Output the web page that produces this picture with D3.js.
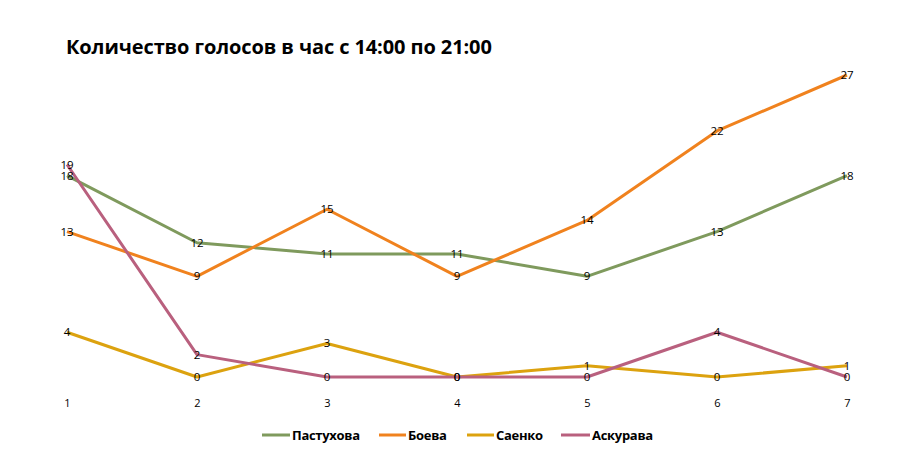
<!DOCTYPE html>
<html>
<head>
<meta charset="utf-8">
<script src="https://cdn.jsdelivr.net/npm/d3@7"></script>
<style>
  body { margin: 0; background: #fff; }
  svg { font-family: 'Open Sans', 'DejaVu Sans', sans-serif; }
</style>
</head>
<body>
<svg id="chart"></svg>
<script>
const hours = [1, 2, 3, 4, 5, 6, 7];
const names = ['Пастухова', 'Боева', 'Саенко', 'Аскурава'];
const pastukhova = [18, 12, 11, 11, 9, 13, 18];
const boeva = [13, 9, 15, 9, 14, 22, 27];
const saenko = [4, 0, 3, 0, 1, 0, 1];
const askurava = [19, 2, 0, 0, 0, 4, 0];
const colors = ['#7f9a5d', '#f0821e', '#dca20f', '#b9607e'];

const width = 916;
const height = 454;
const margin = { top: 75, right: 69, bottom: 77, left: 67 };
const graphW = width - margin.left - margin.right;
const graphH = height - margin.top - margin.bottom;

const svg = d3.select('#chart').attr('width', width).attr('height', height);

const series = [pastukhova, boeva, saenko, askurava].map((v, i) => ({
  name: names[i],
  color: colors[i],
  values: v,
}));

const xScale = d3.scalePoint().domain(hours).range([0, graphW]);
const yScale = d3.scaleLinear().domain([0, 27]).range([graphH, 0]);

// title
svg.append('text')
  .attr('x', 66)
  .attr('y', 54)
  .attr('font-size', 20)
  .attr('font-weight', 'bold')
  .attr('letter-spacing', '-0.1')
  .text('Количество голосов в час с 14:00 по 21:00');

const g = svg.append('g')
  .attr('transform', `translate(${margin.left},${margin.top})`);

// x axis labels, no line
g.append('g')
  .attr('class', 'x-axis')
  .attr('transform', `translate(0,${graphH + 22})`)
  .call(d3.axisBottom(xScale).tickSize(0).tickPadding(0))
  .call(a => a.select('.domain').remove())
  .selectAll('text')
  .attr('font-size', 11)
  .attr('font-family', "'Open Sans', sans-serif")
  .attr('fill', '#000');

const line = d3.line()
  .x((d, i) => xScale(hours[i]))
  .y(d => yScale(d));

// lines
g.selectAll('.series')
  .data(series)
  .enter()
  .append('path')
  .attr('class', 'series')
  .attr('fill', 'none')
  .attr('stroke', d => d.color)
  .attr('stroke-width', 3)
  .attr('stroke-linejoin', 'round')
  .attr('d', d => line(d.values));

// value labels
series.forEach(s => {
  g.append('g')
    .selectAll('text')
    .data(s.values)
    .enter()
    .append('text')
    .attr('x', (d, i) => xScale(hours[i]))
    .attr('y', d => yScale(d))
    .attr('dy', '0.35em')
    .attr('text-anchor', 'middle')
    .attr('font-size', 11.5)
    .attr('fill', '#000')
    .text(d => d);
});

// legend
const legendItems = [
  { x: 262, w: 28 },
  { x: 379, w: 27 },
  { x: 467, w: 27 },
  { x: 561, w: 29 },
];
const legend = svg.append('g').attr('class', 'legend');
series.forEach((s, i) => {
  const it = legendItems[i];
  legend.append('line')
    .attr('x1', it.x).attr('x2', it.x + it.w)
    .attr('y1', 435).attr('y2', 435)
    .attr('stroke', s.color)
    .attr('stroke-width', 3);
  legend.append('text')
    .attr('x', it.x + it.w + 2)
    .attr('y', 435)
    .attr('dy', '0.35em')
    .attr('font-size', 13)
    .attr('font-weight', 'bold')
    .attr('letter-spacing', '-0.3')
    .text(s.name);
});
</script>
</body>
</html>
